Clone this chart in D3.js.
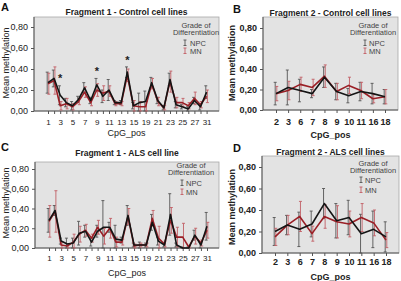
<!DOCTYPE html>
<html>
<head>
<meta charset="utf-8">
<script src="https://d3js.org/d3.v7.min.js"></script>
<style>
body { margin:0; background:#ffffff; }
text { font-family: Arial, "Liberation Sans", sans-serif; }
</style>
</head>
<body>
<script>

// CpG positions
var frag1Pos = ["1","2","3","4","5","6","7","8","9","10","11","12","13","14","15","17",
                "19","20","21","22","23","24","25","26","27","29","31"];
var frag2Pos = ["2","3","6","7","8","9","10","11","16","18"];
var yTicks = [0, 0.2, 0.4, 0.6, 0.8];
var groups = ["NPC", "MN"];

// A - Fragment 1, control
var aNpc    = [0.27,0.31,0.15,0.08,0.05,0.11,0.22,0.10,0.25,0.14,0.20,0.08,0.08,0.37,0.05,0.08,0.09,0.27,0.10,0.03,0.30,0.06,0.04,0.02,0.10,0.04,0.18];
var aNpcErr = [0.10,0.08,0.09,0.04,0.04,0.03,0.05,0.03,0.06,0.06,0.10,0.02,0.02,0.05,0.03,0.09,0.10,0.05,0.03,0.02,0.06,0.03,0.02,0.02,0.03,0.03,0.06];
var aMn     = [0.26,0.29,0.05,0.07,0.04,0.09,0.18,0.08,0.20,0.17,0.19,0.07,0.07,0.34,0.05,0.04,0.04,0.26,0.09,0.03,0.28,0.08,0.08,0.05,0.12,0.06,0.14];
var aMnErr  = [0.10,0.13,0.04,0.05,0.03,0.03,0.05,0.03,0.06,0.07,0.05,0.02,0.02,0.06,0.05,0.05,0.05,0.05,0.04,0.02,0.10,0.05,0.04,0.03,0.06,0.03,0.06];
var aStars  = ["3","9","14"];

// B - Fragment 2, control
var bNpc    = [0.16,0.22,0.19,0.16,0.32,0.18,0.14,0.18,0.16,0.13];
var bNpcErr = [0.11,0.17,0.11,0.04,0.10,0.08,0.07,0.09,0.10,0.07];
var bMn     = [0.16,0.19,0.25,0.22,0.33,0.18,0.24,0.19,0.11,0.13];
var bMnErr  = [0.07,0.09,0.07,0.08,0.11,0.08,0.08,0.08,0.04,0.07];

// C - Fragment 1, ALS
var cNpc    = [0.28,0.38,0.07,0.04,0.05,0.15,0.17,0.06,0.17,0.21,0.21,0.09,0.08,0.33,0.03,0.03,0.03,0.26,0.07,0.03,0.34,0.03,0.00,0.00,0.13,0.03,0.22];
var cNpcErr = [0.12,0.05,0.03,0.06,0.05,0.12,0.06,0.04,0.06,0.27,0.05,0.14,0.03,0.10,0.02,0.03,0.02,0.08,0.04,0.02,0.21,0.02,0.01,0.01,0.05,0.03,0.14];
var cMn     = [0.27,0.37,0.03,0.02,0.06,0.14,0.18,0.10,0.21,0.12,0.20,0.06,0.06,0.32,0.02,0.03,0.03,0.30,0.10,0.04,0.28,0.11,0.11,0.01,0.12,0.05,0.18];
var cMnErr  = [0.16,0.21,0.03,0.02,0.08,0.08,0.06,0.04,0.07,0.08,0.10,0.05,0.03,0.08,0.02,0.02,0.02,0.08,0.12,0.03,0.13,0.10,0.14,0.01,0.08,0.03,0.08];

// D - Fragment 2, ALS
var dNpc    = [0.20,0.26,0.22,0.27,0.46,0.30,0.33,0.18,0.22,0.15];
var dNpcErr = [0.13,0.09,0.16,0.12,0.14,0.16,0.16,0.18,0.17,0.14];
var dMn     = [0.15,0.26,0.34,0.18,0.34,0.29,0.27,0.33,0.28,0.12];
var dMnErr  = [0.08,0.09,0.14,0.07,0.11,0.15,0.12,0.13,0.12,0.07];

var panels = [
  {letter:"A", title:"Fragment 1 - Control cell lines", cats:frag1Pos,
   npc:aNpc, npcErr:aNpcErr, mn:aMn, mnErr:aMnErr, stars:aStars,
   left:34, right:219, top:17, y0:111, y80:27, first:48, last:206.6, bold:false,
   letterXY:[1,11], titleY:15, yTitleX:9, yTitleY:63, xTickY:125, xTitleY:136,
   leg:[196,27.5], legIcon:-11, legText:-6, legRows:[18,26]},
  {letter:"B", title:"Fragment 2 - Control cell lines", cats:frag2Pos,
   npc:bNpc, npcErr:bNpcErr, mn:bMn, mnErr:bMnErr, stars:[],
   left:263, right:398, top:17, y0:110, y80:28, first:276, last:385, bold:true,
   letterXY:[233,13], titleY:16, yTitleX:235, yTitleY:63, xTickY:125, xTitleY:138,
   leg:[373,27.5], legIcon:-8, legText:-4, legRows:[18,26]},
  {letter:"C", title:"Fragment 1 - ALS cell line", cats:frag1Pos,
   npc:cNpc, npcErr:cNpcErr, mn:cMn, mnErr:cMnErr, stars:[],
   left:35, right:219, top:162, y0:248, y80:169, first:49, last:207, bold:false,
   letterXY:[1,151], titleY:156, yTitleX:9, yTitleY:203, xTickY:261, xTitleY:276,
   leg:[191,167.5], legIcon:-9, legText:-5, legRows:[18,27]},
  {letter:"D", title:"Fragment 2 - ALS cell lines", cats:frag2Pos,
   npc:dNpc, npcErr:dNpcErr, mn:dMn, mnErr:dMnErr, stars:[],
   left:262, right:399, top:156, y0:253, y80:167, first:275, last:386, bold:true,
   letterXY:[233,152], titleY:155, yTitleX:235, yTitleY:207, xTickY:265, xTitleY:280,
   leg:[373,165.5], legIcon:-12, legText:-8, legRows:[17,27]}
];

var svg = d3.select("body").append("svg")
    .attr("width", 401)
    .attr("height", 281);

var fmt = function(d) { return d3.format(".2f")(d).replace(".", ","); };

panels.forEach(function(p) {
  var g = svg.append("g");
  var x = d3.scalePoint().domain(p.cats).range([p.first, p.last]);
  var y = d3.scaleLinear().domain([0, 0.8]).range([p.y0, p.y80]);
  var wt = p.bold ? "bold" : "normal";

  g.append("rect")
    .attr("x", p.left).attr("y", p.top)
    .attr("width", p.right - p.left).attr("height", p.y0 - p.top)
    .attr("fill", "#e3e3e3").attr("stroke", "#a8a8a8").attr("stroke-width", 0.8);

  // axes
  var ya = g.append("g").attr("transform", "translate(" + p.left + ",0)")
    .call(d3.axisLeft(y).tickValues(yTicks).tickSize(3).tickPadding(3).tickFormat(fmt));
  ya.select(".domain").remove();
  ya.selectAll("line").attr("stroke", "#555");
  ya.selectAll("text").attr("font-size", 9).attr("font-weight", wt).attr("fill", "#222")
    .attr("font-family", "Arial, 'Liberation Sans', sans-serif");

  var many = p.cats.length > 15;
  var xa = g.append("g").attr("transform", "translate(0," + p.y0 + ")")
    .call(d3.axisBottom(x).tickSize(3).tickPadding(0)
      .tickFormat(function(d, i) { return (!many || i % 2 === 0) ? d : ""; }));
  xa.select(".domain").remove();
  xa.selectAll("line").attr("stroke", "#555");
  xa.selectAll("text").attr("y", p.xTickY - p.y0).attr("dy", null)
    .attr("font-size", many ? 8 : 9).attr("font-weight", wt).attr("fill", "#222")
    .attr("font-family", "Arial, 'Liberation Sans', sans-serif");

  g.append("line").attr("x1", p.left).attr("x2", p.left).attr("y1", p.top).attr("y2", p.y0)
    .attr("stroke", "#555").attr("stroke-width", 1);
  g.append("line").attr("x1", p.left).attr("x2", p.right).attr("y1", p.y0).attr("y2", p.y0)
    .attr("stroke", "#555").attr("stroke-width", 1);

  // series
  var series = [
    {vals:p.npc, err:p.npcErr, line:"#141414", bar:"#555555", dx:-0.8},
    {vals:p.mn,  err:p.mnErr,  line:"#9a1f26", bar:"#c25f65", dx:0.8}
  ];

  series.forEach(function(s) {
    s.vals.forEach(function(v, i) {
      var cx = x(p.cats[i]) + s.dx;
      var lo = y(Math.max(0, v - s.err[i])), hi = y(v + s.err[i]);
      g.append("line").attr("x1", cx).attr("x2", cx).attr("y1", lo).attr("y2", hi)
        .attr("stroke", s.bar).attr("stroke-width", 0.9);
      [lo, hi].forEach(function(yy) {
        g.append("line").attr("x1", cx - 1.5).attr("x2", cx + 1.5).attr("y1", yy).attr("y2", yy)
          .attr("stroke", s.bar).attr("stroke-width", 0.9);
      });
    });
  });

  var line = d3.line()
    .x(function(d, i) { return x(p.cats[i]); })
    .y(function(d) { return y(d); });

  [series[1], series[0]].forEach(function(s) {
    g.append("path").datum(s.vals).attr("d", line)
      .attr("fill", "none").attr("stroke", s.line).attr("stroke-width", 1.6)
      .attr("stroke-linejoin", "round");
  });

  // significance marks
  p.stars.forEach(function(c) {
    var i = p.cats.indexOf(c);
    var top = Math.max(p.npc[i] + p.npcErr[i], p.mn[i] + p.mnErr[i]) + 0.08;
    g.append("text").attr("x", x(c)).attr("y", y(top) + 5)
      .attr("text-anchor", "middle").attr("font-size", 11).attr("font-weight", "bold")
      .attr("fill", "#222").text("*");
  });

  // legend
  var lg = g.append("g").attr("transform", "translate(" + p.leg[0] + "," + p.leg[1] + ")")
    .attr("font-size", 7.5).attr("fill", "#444");
  lg.append("text").attr("text-anchor", "middle").text("Grade of");
  lg.append("text").attr("y", 7.5).attr("text-anchor", "middle").text("Differentiation");
  groups.forEach(function(name, k) {
    var yy = p.legRows[k];
    var col = series[k].bar;
    var ix = p.legIcon;
    lg.append("line").attr("x1", ix).attr("x2", ix).attr("y1", yy - 5.5).attr("y2", yy)
      .attr("stroke", col).attr("stroke-width", 0.9);
    lg.append("line").attr("x1", ix - 1.5).attr("x2", ix + 1.5).attr("y1", yy - 5.5).attr("y2", yy - 5.5)
      .attr("stroke", col).attr("stroke-width", 0.9);
    lg.append("line").attr("x1", ix - 1.5).attr("x2", ix + 1.5).attr("y1", yy).attr("y2", yy)
      .attr("stroke", col).attr("stroke-width", 0.9);
    lg.append("text").attr("x", p.legText).attr("y", yy).text(name);
  });

  // titles
  g.append("text").attr("x", p.letterXY[0]).attr("y", p.letterXY[1])
    .attr("font-size", 11).attr("font-weight", "bold").attr("fill", "#111").text(p.letter);
  g.append("text").attr("x", (p.left + p.right) / 2).attr("y", p.titleY)
    .attr("text-anchor", "middle").attr("font-size", 8.5).attr("font-weight", "bold")
    .attr("fill", "#222").text(p.title);
  g.append("text").attr("transform", "translate(" + p.yTitleX + "," + p.yTitleY + ") rotate(-90)")
    .attr("text-anchor", "middle").attr("font-size", 9).attr("font-weight", wt)
    .attr("fill", "#222").text("Mean methylation");
  g.append("text").attr("x", (p.left + p.right) / 2).attr("y", p.xTitleY)
    .attr("text-anchor", "middle").attr("font-size", 9).attr("font-weight", wt)
    .attr("fill", "#222").text("CpG_pos");
});

</script>
</body>
</html>
